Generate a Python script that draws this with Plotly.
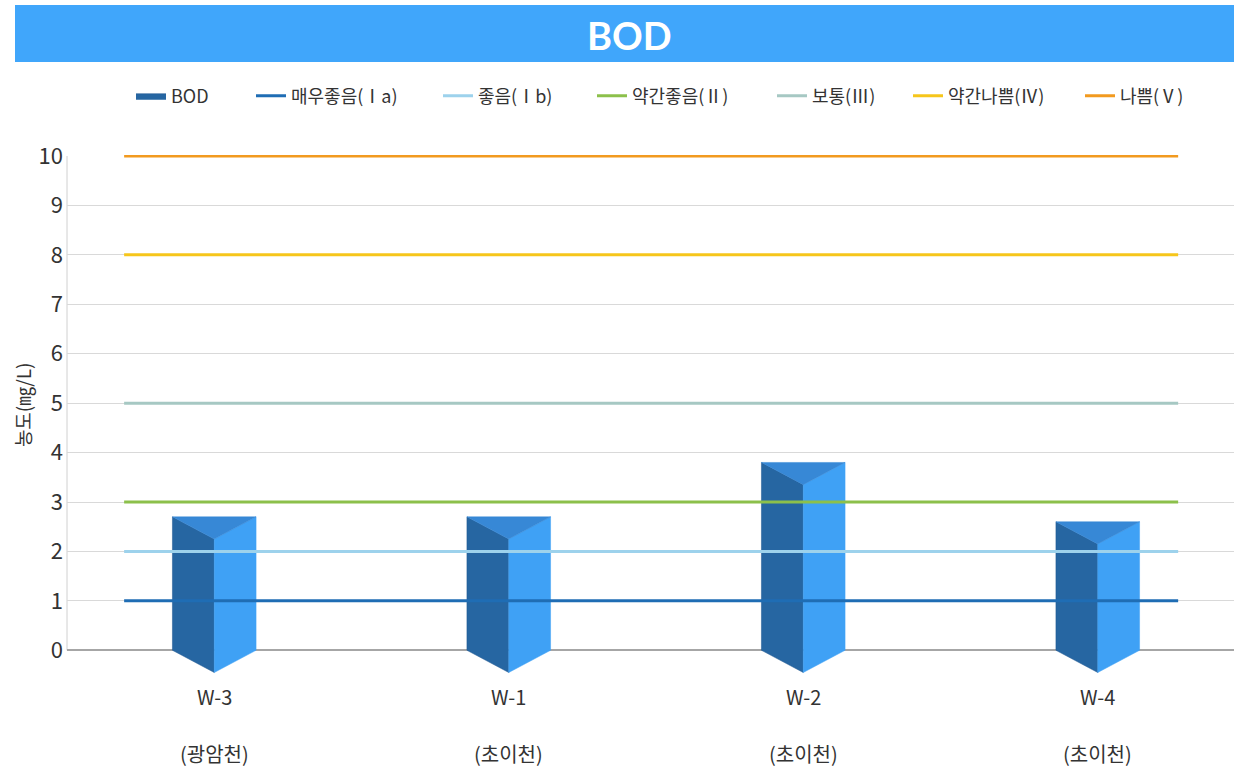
import plotly.graph_objects as go

# ---------------- data ----------------
sites = ["W-3", "W-1", "W-2", "W-4"]
streams = ["(광암천)", "(초이천)", "(초이천)", "(초이천)"]
bod_values = [2.7, 2.7, 3.8, 2.6]

grade_names = ["매우좋음(Ⅰa)", "좋음(Ⅰb)", "약간좋음(Ⅱ)", "보통(Ⅲ)", "약간나쁨(Ⅳ)", "나쁨(Ⅴ)"]
grade_limits = [1, 2, 3, 5, 8, 10]
grade_colors = ["#1f6db4", "#9dd2ec", "#8cc04b", "#a6c8c3", "#f6c61b", "#f29a1f"]

y_ticks = list(range(0, 11))

# ---------------- layout settings ----------------
half_w = 0.142     # half bar width (category units)
depth = 0.45       # perspective drop of front edge (value units)
line_x0, line_x1 = -0.306, 3.273

PL, PT, PW, PH = 67, 155, 1167, 519.75   # plot area in px
X_RANGE = [-0.5, -0.5 + PW / 294.5]
# legend entry swatch starts (px)
legend_px = [136, 256, 443, 597, 777, 913, 1085]

FONT = "Noto Sans CJK KR, Noto Sans, sans-serif"


def px2paper_x(px):
    return (px - PL) / PW


def px2paper_y(py):
    return 1 + (PT - py) / PH


fig = go.Figure()

# prism faces built from data
lx, ly, rx, ry, tx, ty = [], [], [], [], [], []
for i, v in enumerate(bod_values):
    c = i
    lx += [c - half_w, c, c, c - half_w, c - half_w, None]
    ly += [v, v - depth, -depth, 0, v, None]
    rx += [c, c + half_w, c + half_w, c, c, None]
    ry += [v - depth, v, 0, -depth, v - depth, None]
    tx += [c - half_w, c + half_w, c, c - half_w, None]
    ty += [v, v, v - depth, v, None]

legend_ids = ["legend"] + [f"legend{k}" for k in range(2, 8)]

fig.add_trace(go.Scatter(x=lx, y=ly, fill="toself", mode="lines",
                         fillcolor="#2666a2", line=dict(color="#1f5690", width=0.5),
                         name="BOD", legend=legend_ids[0], hoverinfo="skip"))
fig.add_trace(go.Scatter(x=rx, y=ry, fill="toself", mode="lines",
                         fillcolor="#3fa1f5", line=dict(color="#3fa1f5", width=0.5),
                         showlegend=False, hoverinfo="skip"))
fig.add_trace(go.Scatter(x=tx, y=ty, fill="toself", mode="lines",
                         fillcolor="#3788d6", line=dict(color="#3788d6", width=0.5),
                         showlegend=False, hoverinfo="skip"))

# threshold lines
for k, (name, lim, col) in enumerate(zip(grade_names, grade_limits, grade_colors)):
    fig.add_trace(go.Scatter(
        x=[line_x0, line_x1], y=[lim, lim], mode="lines",
        line=dict(color=col, width=3), name=name, hoverinfo="skip",
        legend=legend_ids[k + 1],
    ))

# x labels as annotations
for i, (s, st) in enumerate(zip(sites, streams)):
    fig.add_annotation(x=i, y=0, xref="x", yref="paper", text=s, showarrow=False,
                       yanchor="top", yshift=-5, font=dict(size=20, color="#333333", family=FONT))
    fig.add_annotation(x=i, y=0, xref="x", yref="paper", text=st, showarrow=False,
                       yanchor="top", yshift=-62, font=dict(size=20, color="#333333", family=FONT))

# y-axis title
fig.add_annotation(x=px2paper_x(22), y=px2paper_y(405), xref="paper", yref="paper",
                   text="농도(㎎/L)", textangle=-90, showarrow=False,
                   xanchor="center", yanchor="middle",
                   font=dict(size=19, color="#333333", family=FONT))

# vertical axis line (0..10 only)
fig.add_shape(type="line", xref="paper", yref="y", x0=0, x1=0, y0=0, y1=y_ticks[-1],
              line=dict(color="#d0d0d0", width=1), layer="below")

# title band
fig.add_shape(type="rect", xref="paper", yref="paper", x0=px2paper_x(15), x1=px2paper_x(1236),
              y0=px2paper_y(62), y1=px2paper_y(5),
              fillcolor="#40a6fb", line=dict(width=0), layer="below")
fig.add_annotation(x=px2paper_x(629), y=px2paper_y(35), xref="paper", yref="paper",
                   text="<b>BOD</b>", showarrow=False, xanchor="center", yanchor="middle",
                   font=dict(size=38, color="white", family="Lato, Open Sans, sans-serif"))

legend_layout = {}
for lid, px in zip(legend_ids, legend_px):
    legend_layout[lid] = dict(orientation="h", x=px2paper_x(px - 5), y=px2paper_y(96),
                              xanchor="left", yanchor="middle",
                              font=dict(size=18, color="#333333", family=FONT),
                              itemwidth=30, bgcolor="rgba(0,0,0,0)")

fig.update_layout(
    width=1234, height=768,
    margin=dict(l=PL, r=0, t=PT, b=768 - PT - PH),
    paper_bgcolor="white", plot_bgcolor="white",
    font=dict(family=FONT, color="#333333"),
    showlegend=True,
    xaxis=dict(range=X_RANGE, showticklabels=False, showgrid=False, zeroline=False,
               showline=False, fixedrange=True),
    yaxis=dict(range=[-0.5, 10.02], tickvals=y_ticks, ticktext=[str(t) for t in y_ticks],
               showgrid=True, gridcolor="#d9d9d9", gridwidth=1,
               zeroline=True, zerolinecolor="#a6a6a6", zerolinewidth=1.5,
               showline=False, ticks="", ticklabelstandoff=3,
               tickfont=dict(size=22, color="#333333", family=FONT)),
    **legend_layout,
)

fig.write_html("out.html")
